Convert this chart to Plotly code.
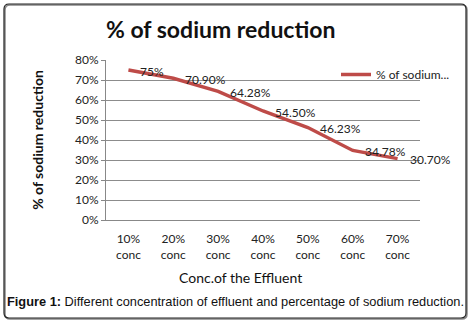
import plotly.graph_objects as go

categories = ["10%<br>conc", "20%<br>conc", "30%<br>conc", "40%<br>conc", "50%<br>conc", "60%<br>conc", "70%<br>conc"]
reduction = [75, 70.90, 64.28, 54.50, 46.23, 34.78, 30.70]
labels = ["75%", "70.90%", "64.28%", "54.50%", "46.23%", "34.78%", "30.70%"]
y_ticks = [0, 10, 20, 30, 40, 50, 60, 70, 80]
y_tick_text = ["0%", "10%", "20%", "30%", "40%", "50%", "60%", "70%", "80%"]

W, H = 470, 323
L, R, T, B = 106, 50, 60, 103
pw, ph = W - L - R, H - T - B

def px(x):
    return (x - L) / pw

def py(y):
    return (H - B - y) / ph

FONT = "Lato, Carlito, Calibri, sans-serif"

fig = go.Figure()
fig.add_trace(go.Scatter(
    x=categories, y=reduction, mode="lines",
    name="% of sodium...",
    line=dict(color="#BE4B48", width=3.5),
    cliponaxis=False,
))

for c, v, t in zip(categories, reduction, labels):
    fig.add_annotation(x=c, y=v, text=t, showarrow=False, xanchor="left", yanchor="middle",
                       xshift=10, yshift=-1,
                       font=dict(family=FONT, size=12, color="#222"))

fig.update_layout(
    width=W, height=H,
    margin=dict(l=L, r=R, t=T, b=B),
    paper_bgcolor="white", plot_bgcolor="white",
    showlegend=True,
    legend=dict(x=px(336), y=py(60), xanchor="left", yanchor="top",
                bgcolor="rgba(0,0,0,0)", font=dict(family=FONT, size=12, color="#222"),
                itemwidth=30, tracegroupgap=0),
    font=dict(family=FONT, color="#222"),
    xaxis=dict(type="category", showgrid=False, showline=True, linecolor="#888", linewidth=1,
               ticks="", tickfont=dict(family=FONT, size=12, color="#222"),
               ticklabelstandoff=8,
               range=[-0.5, 6.5]),
    yaxis=dict(range=[0, 80], tickvals=y_ticks, ticktext=y_tick_text,
               showgrid=True, gridcolor="#8c8c8c", gridwidth=1,
               showline=True, linecolor="#888", linewidth=1,
               ticks="outside", ticklen=4, tickcolor="#888",
               tickfont=dict(family=FONT, size=12, color="#222"),
               title=dict(text="<b>% of sodium reduction</b>", font=dict(family=FONT, size=14, color="#111"), standoff=28),
               zeroline=False),
)

fig.add_annotation(text="<b>% of sodium reduction</b>", xref="paper", yref="paper",
                   x=px(220), y=py(29), showarrow=False, xanchor="center", yanchor="middle",
                   font=dict(family=FONT, size=23, color="#111"))

fig.add_annotation(text="Conc.of the Effluent", xref="paper", yref="paper",
                   x=px(240), y=py(277), showarrow=False, xanchor="center", yanchor="middle",
                   font=dict(family=FONT, size=14, color="#111"))

fig.add_annotation(text="<b>Figure 1:</b> Different concentration of effluent and percentage of sodium reduction.",
                   xref="paper", yref="paper", x=px(235), y=py(301), showarrow=False,
                   xanchor="center", yanchor="middle",
                   font=dict(family="Liberation Sans, Arial, sans-serif", size=12.8, color="#111"))

# rounded outer frame with slight shadow
def rounded_path(x0, y0, x1, y1, r):
    X0, X1 = px(x0), px(x1)
    Y0, Y1 = py(y0), py(y1)
    rx, ry = r / pw, r / ph
    return (f"M {X0+rx},{Y0} L {X1-rx},{Y0} Q {X1},{Y0} {X1},{Y0-ry} "
            f"L {X1},{Y1+ry} Q {X1},{Y1} {X1-rx},{Y1} L {X0+rx},{Y1} "
            f"Q {X0},{Y1} {X0},{Y1+ry} L {X0},{Y0-ry} Q {X0},{Y0} {X0+rx},{Y0} Z")

fig.add_shape(type="path", xref="paper", yref="paper",
              path=rounded_path(5, 5, 467, 319, 5),
              line=dict(color="#888", width=1.5), layer="above")
fig.add_shape(type="path", xref="paper", yref="paper",
              path=rounded_path(4, 4, 466, 318, 5),
              line=dict(color="#222", width=1.2), layer="above")

fig.write_html("out.html", config={"displayModeBar": False})

with open("out.html", "r", encoding="utf-8") as f:
    html = f.read()
html = html.replace("<head>", "<head><style>html,body{margin:0;padding:0;overflow:hidden;}</style>", 1)
with open("out.html", "w", encoding="utf-8") as f:
    f.write(html)
